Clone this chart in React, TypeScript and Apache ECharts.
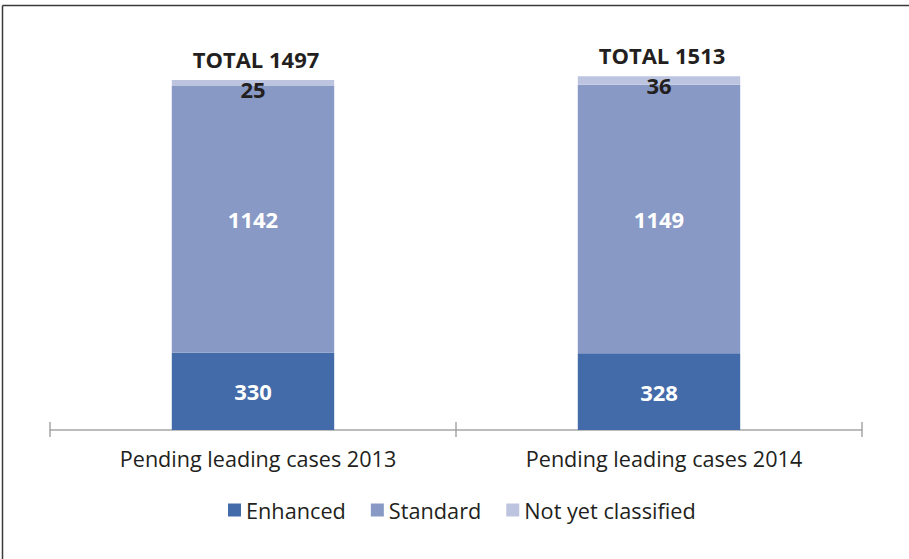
import React, { useEffect, useRef } from "react";
import * as echarts from "echarts";

const categories = ["Pending leading cases 2013", "Pending leading cases 2014"];
const enhanced = [330, 328];
const standard = [1142, 1149];
const notClassified = [25, 36];
const totals = [1497, 1513];
const seriesNames = ["Enhanced", "Standard", "Not yet classified"];

const FONT = "'Open Sans', 'Noto Sans', sans-serif";
const DARK = "#231f20";

export default function App() {
  const ref = useRef<HTMLDivElement>(null);
  useEffect(() => {
    if (!ref.current) return;
    const chart = echarts.init(ref.current, undefined, { renderer: "svg" });
    const insideLabel = {
      show: true,
      position: "inside",
      color: "#ffffff",
      fontWeight: "bold",
      fontSize: 22,
      fontFamily: FONT,
    };
    chart.setOption({
      animation: false,
      textStyle: { fontFamily: FONT },
      graphic: [
        {
          type: "line",
          shape: { x1: 2.5, y1: 5.5, x2: 909, y2: 5.5 },
          style: { stroke: "#3a3a3a", lineWidth: 1.5 },
        },
        {
          type: "line",
          shape: { x1: 2.5, y1: 5.5, x2: 2.5, y2: 559 },
          style: { stroke: "#3a3a3a", lineWidth: 1.5 },
        },
      ],
      legend: {
        data: seriesNames,
        left: 223,
        top: 494,
        itemWidth: 13,
        itemHeight: 13,
        itemGap: 25,
        icon: "rect",
        textStyle: { fontSize: 21.7, color: DARK, fontFamily: FONT },
      },
      grid: { left: 50, right: 47, top: 56, bottom: 129 },
      xAxis: [
        {
          type: "category",
          data: categories,
          axisLine: { lineStyle: { color: "#a6a6a6", width: 1.5 } },
          axisTick: { show: true, length: 7, lineStyle: { color: "#a6a6a6", width: 1.5 } },
          axisLabel: {
            fontSize: 21.6,
            color: DARK,
            margin: 17,
            fontFamily: FONT,
            padding: [0, 0, 0, 10],
          },
        },
        {
          type: "category",
          data: categories,
          position: "bottom",
          offset: 0,
          axisLine: { show: false },
          axisTick: { show: true, inside: true, length: 8, lineStyle: { color: "#a6a6a6", width: 1.5 } },
          axisLabel: { show: false },
        },
      ],
      yAxis: { type: "value", min: 0, max: 1600, show: false },
      series: [
        {
          name: seriesNames[0],
          type: "bar",
          stack: "total",
          data: enhanced,
          barWidth: "40%",
          itemStyle: { color: "#436aa9" },
          label: insideLabel,
        },
        {
          name: seriesNames[1],
          type: "bar",
          stack: "total",
          data: standard,
          itemStyle: { color: "#8899c5" },
          label: insideLabel,
        },
        {
          name: seriesNames[2],
          type: "bar",
          stack: "total",
          data: notClassified,
          itemStyle: { color: "#bdc4e0" },
          label: {
            show: true,
            position: "insideTop",
            distance: -2,
            color: DARK,
            fontWeight: "bold",
            fontSize: 22,
            fontFamily: FONT,
          },
        },
        {
          name: "Total",
          type: "bar",
          stack: "total",
          data: totals.map(() => 0),
          itemStyle: { color: "transparent" },
          label: {
            show: true,
            position: "top",
            distance: 10,
            color: DARK,
            fontWeight: "bold",
            fontSize: 22,
            fontFamily: FONT,
            padding: [0, 0, 0, 6],
            formatter: (p: any) => "TOTAL " + totals[p.dataIndex],
          },
        },
      ],
    });
    return () => chart.dispose();
  }, []);
  return (
    <div
      ref={ref}
      style={{ position: "fixed", left: 0, top: 0, width: 909, height: 559, background: "#ffffff" }}
    />
  );
}
